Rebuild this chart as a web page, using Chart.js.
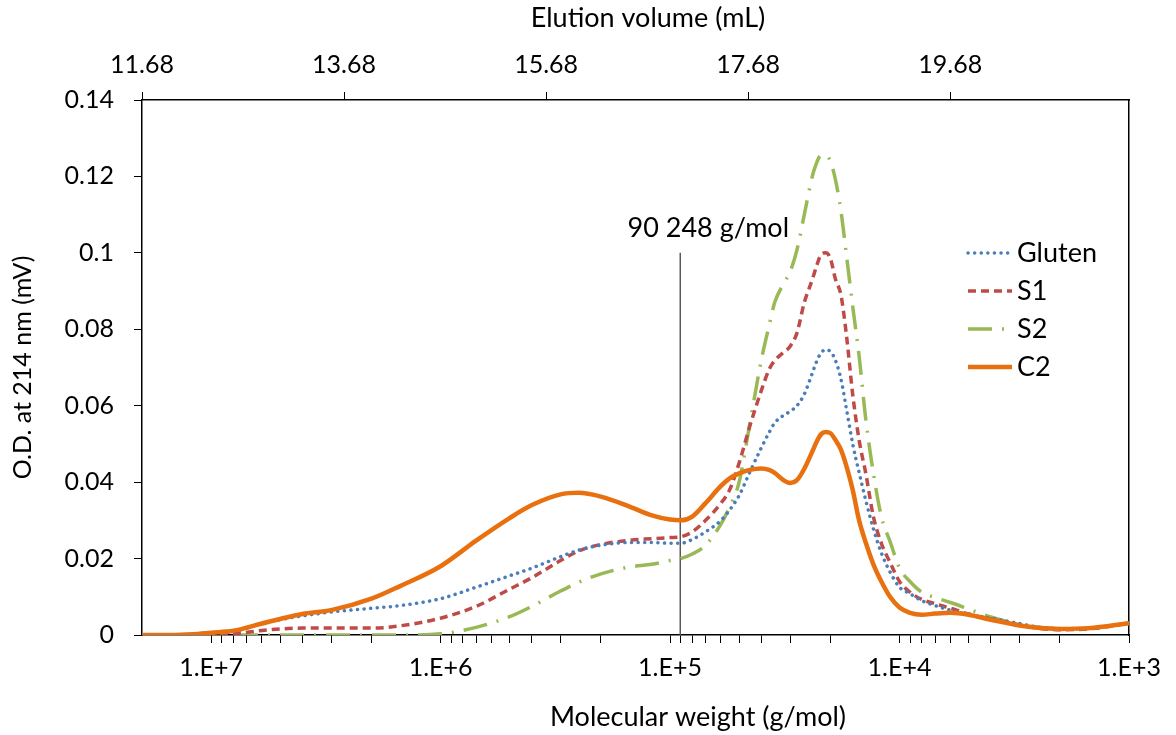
<!DOCTYPE html>
<html>
<head>
<meta charset="utf-8">
<script src="https://cdn.jsdelivr.net/npm/chart.js@4.4.1/dist/chart.umd.min.js"></script>
<style>
  body { margin: 0; background: #fff; }
  #wrap { width: 1176px; height: 735px; }
</style>
</head>
<body>
<div id="wrap"><canvas id="secChart"></canvas></div>
<script>
// molecular weight (g/mol) sample points
const molWeight = [2e7, 1.5e7, 1.2e7, 1e7, 8e6, 6e6, 5e6, 4e6, 3e6, 2e6, 1.5e6, 1e6,
  7e5, 5e5, 4e5, 3e5, 2.5e5, 2e5, 1.5e5, 1.2e5, 1e5, 9e4, 8e4, 7e4, 6e4, 5.5e4, 5e4,
  4.5e4, 4e4, 3.7e4, 3.5e4, 3.2e4, 3e4, 2.8e4, 2.6e4, 2.4e4, 2.3e4, 2.2e4, 2.1e4, 2e4,
  1.9e4, 1.8e4, 1.7e4, 1.6e4, 1.5e4, 1.4e4, 1.3e4, 1.2e4, 1.1e4, 1e4, 9e3, 8e3, 7e3,
  6e3, 5e3, 4e3, 3e3, 2.5e3, 2e3, 1.5e3, 1e3];

// O.D. at 214 nm for each sample
const gluten = [0, 0, 0.0002, 0.0005, 0.0009, 0.0030, 0.0040, 0.0050, 0.0060, 0.0070, 0.0077, 0.0095,
  0.0125, 0.0155, 0.0175, 0.0205, 0.0222, 0.0235, 0.0242, 0.0242, 0.0240, 0.0240, 0.0250, 0.0270, 0.0300, 0.0327, 0.0365,
  0.0425, 0.0490, 0.0530, 0.0555, 0.0575, 0.0585, 0.0600, 0.0630, 0.0685, 0.0715, 0.0738, 0.0746, 0.0742,
  0.0718, 0.0670, 0.0589, 0.0500, 0.0425, 0.0350, 0.0278, 0.0215, 0.0165, 0.0125, 0.0108, 0.0090, 0.0077,
  0.0065, 0.0054, 0.0044, 0.0030, 0.0021, 0.0017, 0.0018, 0.0031];

const s1 = [0, 0, 0, 0, 0.0003, 0.0012, 0.0016, 0.0018, 0.0018, 0.0018, 0.0024, 0.0044,
  0.0075, 0.0120, 0.0150, 0.0195, 0.0220, 0.0237, 0.0248, 0.0252, 0.0255, 0.0257, 0.0270, 0.0300, 0.0345, 0.0380, 0.0450,
  0.0545, 0.0640, 0.0695, 0.0718, 0.0740, 0.0755, 0.0790, 0.0870, 0.0930, 0.0965, 0.0995, 0.1000, 0.0985,
  0.0930, 0.0890, 0.0780, 0.0630, 0.0510, 0.0420, 0.0310, 0.0240, 0.0190, 0.0140, 0.0112, 0.0093, 0.0082,
  0.0070, 0.0055, 0.0042, 0.0026, 0.0018, 0.0014, 0.0016, 0.0031];

const s2 = [0, 0, 0, 0, 0, 0, 0, 0, 0, 0, 0, 0.0003,
  0.0020, 0.0048, 0.0075, 0.0115, 0.0138, 0.0160, 0.0178, 0.0185, 0.0195, 0.0200, 0.0212, 0.0235, 0.0290, 0.0335, 0.0400,
  0.0550, 0.0720, 0.0810, 0.0870, 0.0920, 0.0950, 0.1007, 0.1100, 0.1200, 0.1235, 0.1255, 0.1255, 0.1240,
  0.1190, 0.1110, 0.0990, 0.0860, 0.0730, 0.0560, 0.0424, 0.0310, 0.0245, 0.0175, 0.0140, 0.0112, 0.0098,
  0.0085, 0.0068, 0.0047, 0.0028, 0.0020, 0.0016, 0.0017, 0.0031];

const c2 = [0, 0, 0.0002, 0.0006, 0.0011, 0.0030, 0.0042, 0.0055, 0.0065, 0.0095, 0.0128, 0.0180,
  0.0247, 0.0306, 0.0340, 0.0368, 0.0372, 0.0362, 0.0336, 0.0313, 0.0302, 0.0300, 0.0310, 0.0345, 0.0390, 0.0410, 0.0423,
  0.0432, 0.0436, 0.0432, 0.0424, 0.0405, 0.0398, 0.0405, 0.0435, 0.0480, 0.0505, 0.0525, 0.0531, 0.0528,
  0.0510, 0.0485, 0.0440, 0.0380, 0.0300, 0.0240, 0.0185, 0.0140, 0.0100, 0.0072, 0.0058, 0.0053, 0.0056,
  0.0058, 0.0053, 0.0040, 0.0025, 0.0019, 0.0016, 0.0018, 0.0031];

const seriesNames = ["Gluten", "S1", "S2", "C2"];
const volumeTicks = [11.68, 13.68, 15.68, 17.68, 19.68];
const odTicks = [0, 0.02, 0.04, 0.06, 0.08, 0.1, 0.12, 0.14];
const cutoffMw = 90248;
const cutoffTop = 0.1;
const cutoffLabel = "90 248 g/mol";

const FONT = "Lato, 'Open Sans', sans-serif";
const toPoints = ys => molWeight.map((x, i) => ({ x: x, y: ys[i] }));

// minor + major ticks for the log axis, 1e3 .. 1e7
const mwTicks = [];
for (let e = 3; e <= 7; e++) {
    for (let m = 1; m <= 9; m++) {
        const v = m * Math.pow(10, e);
        if (v <= 1e7) mwTicks.push(v);
    }
}

// ✅ draws axis titles, the cutoff label and an in-plot legend
const extras = {
    id: "extras",
    afterDraw(chart) {
        const ctx = chart.ctx;
        const area = chart.chartArea;
        const xs = chart.scales.x;
        const ys = chart.scales.y;
        ctx.save();
        ctx.fillStyle = "#000";
        ctx.textAlign = "center";
        ctx.textBaseline = "middle";
        ctx.font = "27px " + FONT;
        ctx.fillText("Elution volume (mL)", 648, 18);
        ctx.fillText("Molecular weight (g/mol)", 698, 717);
        ctx.fillText(cutoffLabel, xs.getPixelForValue(cutoffMw) + 28, ys.getPixelForValue(cutoffTop) - 25);
        ctx.save();
        ctx.font = "25px " + FONT;
        ctx.translate(23, (area.top + area.bottom) / 2);
        ctx.rotate(-Math.PI / 2);
        ctx.fillText("O.D. at 214 nm (mV)", 0, 0);
        ctx.restore();

        // legend
        const lx = area.right - 161;
        let ly = area.top + 153;
        chart.data.datasets.filter(d => seriesNames.includes(d.label)).forEach(d => {
            ctx.save();
            ctx.strokeStyle = d.borderColor;
            ctx.lineWidth = d.borderWidth;
            ctx.lineCap = d.borderCapStyle || "butt";
            ctx.setLineDash(d.borderDash || []);
            ctx.beginPath();
            ctx.moveTo(lx, ly);
            ctx.lineTo(lx + 44, ly);
            ctx.stroke();
            ctx.restore();
            ctx.textAlign = "left";
            ctx.fillText(d.label, lx + 49, ly);
            ly += 38;
        });
        ctx.restore();
    }
};

const ctx = document.getElementById("secChart").getContext("2d");
new Chart(ctx, {
    type: "line",
    data: {
        datasets: [
            {
                label: "Gluten",
                data: toPoints(gluten),
                borderColor: "#4A7EBB",
                borderWidth: 3.5,
                borderDash: [0.1, 6.5],
                borderCapStyle: "round",
                order: 2
            },
            {
                label: "S1",
                data: toPoints(s1),
                borderColor: "#BE4B48",
                borderWidth: 3.5,
                borderDash: [8, 5],
                order: 3
            },
            {
                label: "S2",
                data: toPoints(s2),
                borderColor: "#98B954",
                borderWidth: 3.5,
                borderDash: [24, 10, 2, 10],
                order: 4
            },
            {
                label: "C2",
                data: toPoints(c2),
                borderColor: "#E8700F",
                borderWidth: 4.5,
                order: 1
            },
            {
                label: "cutoff",
                data: [{ x: cutoffMw, y: 0 }, { x: cutoffMw, y: cutoffTop }],
                borderColor: "#5a5a5a",
                borderWidth: 1.5,
                cubicInterpolationMode: "default",
                tension: 0,
                order: 10
            }
        ]
    },
    options: {
        responsive: true,
        maintainAspectRatio: false,
        animation: false,
        layout: { padding: 0 },
        elements: {
            point: { radius: 0 },
            line: { cubicInterpolationMode: "monotone", fill: false }
        },
        plugins: {
            legend: { display: false },
            tooltip: { enabled: false }
        },
        scales: {
            x: {
                type: "logarithmic",
                position: "bottom",
                reverse: true,
                min: 1000,
                max: 2e7,
                afterBuildTicks: s => { s.ticks = mwTicks.map(v => ({ value: v })); },
                afterFit: s => { s.height = 100; },
                ticks: {
                    autoSkip: false,
                    maxRotation: 0,
                    padding: 10,
                    color: "#000",
                    font: { family: FONT, size: 25 },
                    callback: v => {
                        const e = Math.log10(v);
                        return Math.abs(e - Math.round(e)) < 1e-9 ? "1.E+" + Math.round(e) : "";
                    }
                },
                grid: { drawOnChartArea: false, color: "#000", tickLength: 8 },
                border: { color: "#000", width: 1.5 }
            },
            x2: {
                type: "linear",
                position: "top",
                min: 11.68,
                max: 21.45,
                afterBuildTicks: s => { s.ticks = volumeTicks.map(v => ({ value: v })); },
                afterFit: s => { s.height = 100; },
                ticks: {
                    autoSkip: false,
                    maxRotation: 0,
                    padding: 12,
                    color: "#000",
                    font: { family: FONT, size: 25 },
                    callback: v => v.toFixed(2)
                },
                grid: { drawOnChartArea: false, color: "#000", tickLength: 8 },
                border: { color: "#000", width: 1.5 }
            },
            y: {
                min: 0,
                max: 0.14,
                afterBuildTicks: s => { s.ticks = odTicks.map(v => ({ value: v })); },
                afterFit: s => { s.width = 142; },
                ticks: {
                    padding: 20,
                    color: "#000",
                    font: { family: FONT, size: 25 },
                    callback: v => String(Number(v.toFixed(2)))
                },
                grid: { drawOnChartArea: false, color: "#000", tickLength: 8 },
                border: { color: "#000", width: 1.5 }
            },
            yRight: {
                position: "right",
                min: 0,
                max: 0.14,
                afterFit: s => { s.width = 47; },
                ticks: { display: false },
                grid: { display: false, drawTicks: false },
                border: { display: true, color: "#000", width: 1.5 }
            }
        }
    },
    plugins: [extras]
});
</script>
</body>
</html>
